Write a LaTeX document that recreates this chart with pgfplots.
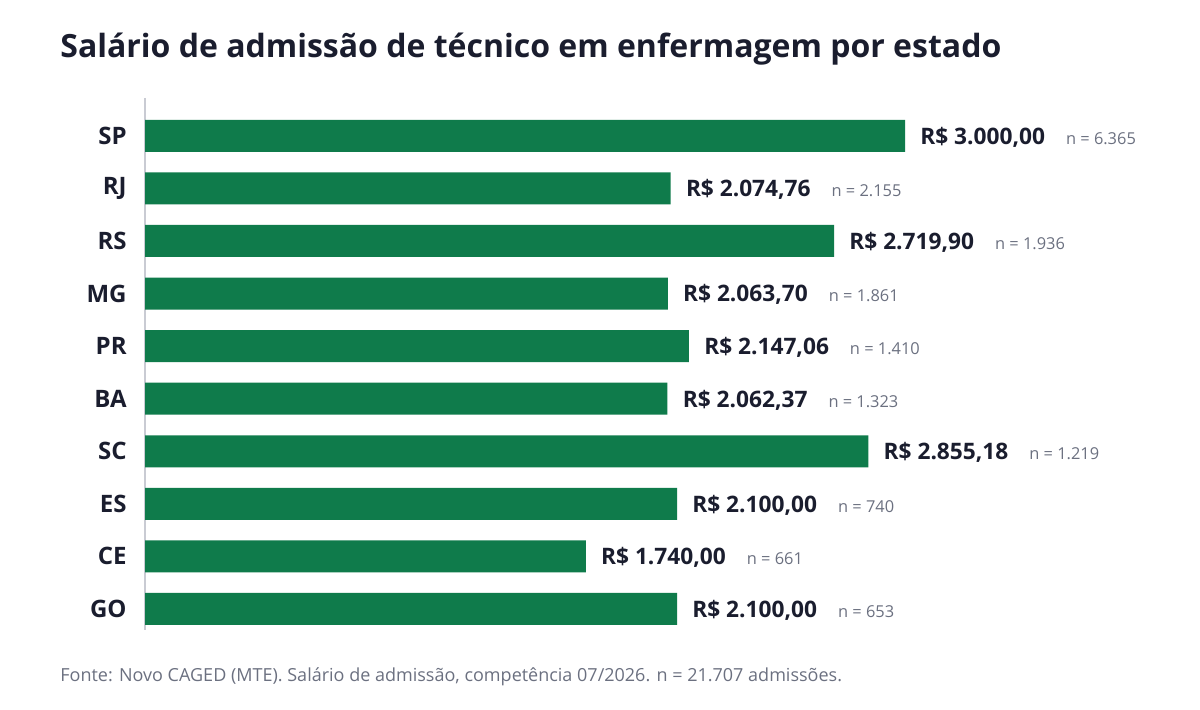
\documentclass[border=0pt]{standalone}
\usepackage{pgfplots}
\pgfplotsset{compat=1.18}
\usepackage{pgfplotstable}
\usepackage{fontspec}
\setmainfont{Open Sans}
\IfFontExistsTF{Open Sans SemiBold}
  {\newfontfamily\semib{Open Sans SemiBold}\def\valsize{11.6}}
  {\def\semib{\bfseries}\def\valsize{11.35}}

\definecolor{barg}{HTML}{0F7B4B}
\definecolor{ink}{HTML}{1A1D2E}
\definecolor{muted}{HTML}{6B7080}
\definecolor{axisgray}{HTML}{C9CBD3}

% salario de admissao por estado (R$); lab = valor|n admissoes
\pgfplotstableread{
pos val     lab
0   3000    3.000,00|6.365
1   2074.76 2.074,76|2.155
2   2719.90 2.719,90|1.936
3   2063.70 2.063,70|1.861
4   2147.06 2.147,06|1.410
5   2062.37 2.062,37|1.323
6   2855.18 2.855,18|1.219
7   2100    2.100,00|740
8   1740    1.740,00|661
9   2100    2.100,00|653
}\salarios

\def\splitlab#1|#2\relax{{\fontsize{\valsize}{14}\selectfont\semib\color{ink}R\$ #1}\hspace{10.5pt}{\fontsize{8.2}{10}\selectfont\color{muted}n = #2}}

\begin{document}
\begin{tikzpicture}
\useasboundingbox (0,0) rectangle (600pt,355pt);
\node[anchor=west, inner sep=0pt, text=ink, font=\fontsize{16}{19}\selectfont\bfseries]
  at (30pt,330.5pt) {Salário de admissão de técnico em enfermagem por estado};

\begin{axis}[
  at={(72.5pt,40pt)}, anchor=south west,
  scale only axis, width=380pt, height=266pt,
  xbar, bar width=16pt,
  xmin=0, xmax=3000, ymin=-0.72, ymax=9.4, y dir=reverse,
  axis x line=none, axis y line*=left,
  y axis line style={draw=axisgray, line width=0.75pt},
  ytick={0,...,9}, yticklabels={SP,RJ,RS,MG,PR,BA,SC,ES,CE,GO},
  major tick length=0pt,
  yticklabel style={font=\fontsize{12}{14}\selectfont\bfseries, text=ink, inner sep=0pt, xshift=-9pt},
  clip=false,
  point meta=explicit symbolic,
  nodes near coords={\expandafter\splitlab\pgfplotspointmeta\relax},
  nodes near coords style={anchor=base west, inner sep=0pt, xshift=7.5pt, yshift=-4.2pt},
]
\addplot[fill=barg, draw=none] table[x=val, y=pos, meta=lab] {\salarios};
\end{axis}

\node[anchor=west, inner sep=0pt, text=muted, font=\fontsize{9}{11}\selectfont]
  at (30pt,16.5pt) {Fonte: Novo CAGED (MTE). Salário de admissão, competência 07/2026. n = 21.707 admissões.};
\end{tikzpicture}
\end{document}
